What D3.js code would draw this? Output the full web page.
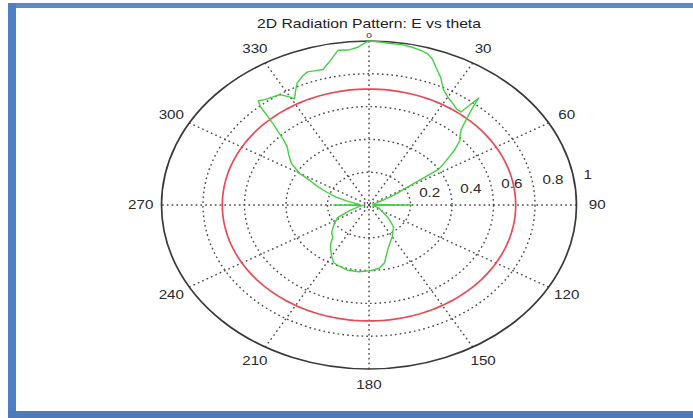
<!DOCTYPE html>
<html>
<head>
<meta charset="utf-8">
<script src="https://cdn.jsdelivr.net/npm/d3@7"></script>
<style>
  html, body { margin: 0; padding: 0; background: #ffffff; }
  svg { display: block; }
  text { font-family: "Liberation Sans", Arial, sans-serif; }
</style>
</head>
<body>
<svg id="chart" width="693" height="418"></svg>
<script>
// ---- data ----
const title = "2D Radiation Pattern: E vs theta";
const angleTicks = [0, 30, 60, 90, 120, 150, 180, 210, 240, 270, 300, 330];
const radialTicks = [0.2, 0.4, 0.6, 0.8, 1];
const radialTickLabels = ["0.2", "0.4", "0.6", "0.8", "1"];
const refLevel = 0.707; // red reference circle
// measured pattern: angle (deg, clockwise from top) and normalized E
const thetaDeg = [0, 3, 6, 9, 12, 15, 17, 19, 21, 24, 27, 30, 33, 36, 38, 39, 40, 42, 44, 46, 48, 51, 54, 56, 57, 58, 60, 63, 66, 70, 75, 80, 85, 88, 90, 92, 95, 100, 105, 110, 120, 130, 135, 139, 145, 150, 156, 162, 168, 173, 179, 187, 195, 201, 206, 210, 214, 218, 222, 226, 230, 236, 243, 250, 258, 265, 268, 270, 272, 276, 282, 287, 291, 295, 298, 300, 304, 308, 312, 314, 317, 319, 320, 322, 325, 327, 328, 330, 331, 333, 335, 338, 340, 342, 345, 348, 351, 354, 357, 359, 360];
const eField  = [1.0, 0.995, 0.99, 0.99, 0.985, 0.975, 0.965, 0.94, 0.9, 0.85, 0.79, 0.76, 0.74, 0.72, 0.72, 0.84, 0.78, 0.7, 0.64, 0.61, 0.59, 0.53, 0.46, 0.42, 0.4, 0.3, 0.2, 0.14, 0.08, 0.04, 0.03, 0.02, 0.02, 0.05, 0.2, 0.05, 0.02, 0.02, 0.03, 0.05, 0.07, 0.12, 0.15, 0.18, 0.2, 0.224, 0.25, 0.29, 0.36, 0.39, 0.4, 0.41, 0.41, 0.4, 0.39, 0.36, 0.33, 0.3, 0.26, 0.25, 0.23, 0.2, 0.17, 0.1, 0.05, 0.03, 0.06, 0.17, 0.06, 0.05, 0.1, 0.166, 0.217, 0.28, 0.327, 0.386, 0.45, 0.49, 0.53, 0.573, 0.68, 0.8, 0.83, 0.815, 0.805, 0.8, 0.79, 0.76, 0.74, 0.78, 0.82, 0.85, 0.864, 0.86, 0.855, 0.9, 0.955, 0.95, 0.965, 0.99, 1.0];

// ---- layout ----
const svg = d3.select("#chart");
const W = 693, H = 418;
const cx = 369, cy = 205;
const RX = 207.5, RY = 164;
const stretch = RX / RY;

// frame
svg.append("rect").attr("x", 0).attr("y", 0).attr("width", W).attr("height", H).attr("fill", "#ffffff");
svg.append("rect").attr("x", 8).attr("y", 3).attr("width", W - 8).attr("height", 5).attr("fill", "#5b8cc9");
svg.append("rect").attr("x", 8).attr("y", 3).attr("width", 8).attr("height", H - 3).attr("fill", "#4f7fc4");
svg.append("rect").attr("x", 8).attr("y", 411).attr("width", W - 8).attr("height", 7).attr("fill", "#4e7bb8");

const rx = d3.scaleLinear().domain([0, 1]).range([0, RX]);
const ry = d3.scaleLinear().domain([0, 1]).range([0, RY]);
const ang = d3.scaleLinear().domain([0, 360]).range([0, 2 * Math.PI]);
const px = (t, r) => cx + rx(r) * Math.sin(ang(t));
const py = (t, r) => cy - ry(r) * Math.cos(ang(t));

const g = svg.append("g");

// dotted grid circles
const gridColor = "#4a4a4a";
g.selectAll("ellipse.grid").data(radialTicks.filter(r => r < 1)).enter()
  .append("ellipse").attr("class", "grid")
  .attr("cx", cx).attr("cy", cy)
  .attr("rx", d => rx(d)).attr("ry", d => ry(d))
  .attr("fill", "none").attr("stroke", gridColor)
  .attr("stroke-width", 1.4).attr("stroke-dasharray", "1.7,3.1");

// spokes
g.selectAll("line.spoke").data(angleTicks.filter(a => a < 180)).enter()
  .append("line").attr("class", "spoke")
  .attr("x1", d => px(d, 1)).attr("y1", d => py(d, 1))
  .attr("x2", d => px(d + 180, 1)).attr("y2", d => py(d + 180, 1))
  .attr("stroke", gridColor).attr("stroke-width", 1.4).attr("stroke-dasharray", "1.7,3.1");

// outer circle
g.append("ellipse").attr("cx", cx).attr("cy", cy)
  .attr("rx", rx(1)).attr("ry", ry(1))
  .attr("fill", "none").attr("stroke", "#3a3a3a").attr("stroke-width", 1.7);

// red reference circle
const circlePts = d3.range(0, 361, 2);
g.append("path")
  .datum(circlePts)
  .attr("d", d3.line().x(t => px(t, refLevel)).y(t => py(t, refLevel)))
  .attr("fill", "none").attr("stroke", "#e84a55").attr("stroke-width", 1.7);

// green measured pattern
const pts = thetaDeg.map((t, i) => ({ t, r: eField[i] }));
g.append("path")
  .datum(pts)
  .attr("d", d3.line().x(d => px(d.t, d.r)).y(d => py(d.t, d.r)))
  .attr("fill", "none").attr("stroke", "#45cf45").attr("stroke-width", 1.4)
  .attr("stroke-linejoin", "round");

// angle labels
const fs = 12;
g.selectAll("text.ang").data(angleTicks).enter()
  .append("text").attr("class", "ang")
  .attr("transform", d => {
    const yy = d === 0 ? py(d, 1) - 5.5 : py(d, 1.1);
    return `translate(${px(d, 1.1)},${yy}) scale(${stretch},1)`;
  })
  .attr("text-anchor", "middle").attr("dominant-baseline", "central")
  .attr("font-size", d => d === 0 ? 8 : fs).attr("fill", "#2a2a2a")
  .text(d => d);

// radial labels (MATLAB places them at 82 deg from the zero axis)
const lblAngle = 82;
g.selectAll("text.rad").data(radialTicks).enter()
  .append("text").attr("class", "rad")
  .attr("transform", (d, i) => `translate(${px(lblAngle, d + 0.01) + 7},${py(lblAngle, d + 0.01) - 3}) scale(${stretch},1)`)
  .attr("text-anchor", "start")
  .attr("font-size", fs).attr("fill", "#2a2a2a")
  .text((d, i) => radialTickLabels[i]);

// title
svg.append("text")
  .attr("transform", `translate(${cx},28) scale(${stretch},1)`)
  .attr("text-anchor", "middle")
  .attr("font-size", 12.4).attr("fill", "#222")
  .text(title);
</script>
</body>
</html>
